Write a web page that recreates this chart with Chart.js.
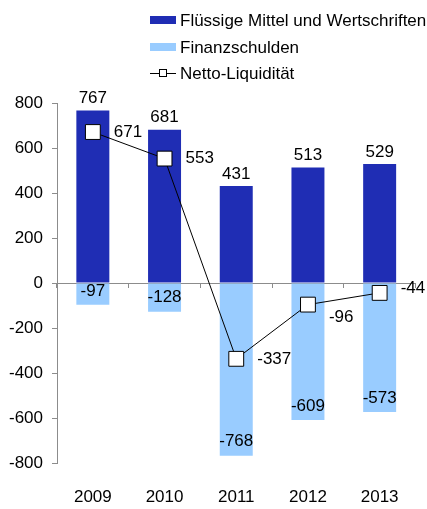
<!DOCTYPE html>
<html>
<head>
<meta charset="utf-8">
<script src="https://cdn.jsdelivr.net/npm/chart.js@4"></script>
<style>
	html, body { margin: 0; padding: 0; background: #fff; }
	#wrap { width: 427px; height: 509px; position: relative; }
</style>
</head>
<body>
<div id="wrap"><canvas id="chart" width="427" height="509"></canvas></div>
<script>
const years = ['2009', '2010', '2011', '2012', '2013'];
const liquidAssets = [767, 681, 431, 513, 529]; // Flüssige Mittel und Wertschriften
const financialDebt = [-97, -128, -768, -609, -573]; // Finanzschulden
const netLiquidity = [671, 553, -337, -96, -44]; // Netto-Liquidität
const yTicks = [-800, -600, -400, -200, 0, 200, 400, 600, 800];

const FONT = '"Liberation Sans", Arial, sans-serif';
const DARK = '#1f2db4';
const LIGHT = '#99ccff';
const AXIS = '#8c8c8c';

// Beschriftungen der Balken und Punkte
const valueLabels = {
	id: 'valueLabels',
	afterDatasetsDraw(chart) {
		const ctx = chart.ctx;
		ctx.save();
		ctx.font = '17px ' + FONT;
		ctx.fillStyle = '#000';
		ctx.textBaseline = 'middle';
		chart.data.datasets.forEach((ds, i) => {
			const meta = chart.getDatasetMeta(i);
			meta.data.forEach((el, j) => {
				const v = ds.data[j];
				if (ds.type === 'line') {
					const nudge = [0, 0, 0, 13, -5][j]; // kleine Verschiebung wie im Original
					ctx.textAlign = 'left';
					ctx.fillText(v, el.x + 21, el.y + nudge);
				} else if (v >= 0) {
					ctx.textAlign = 'center';
					ctx.fillText(v, el.x, el.y - 12);
				} else {
					ctx.textAlign = 'center';
					ctx.fillText(v, el.x, el.y - 14);
				}
			});
		});
		ctx.restore();
	},
};

// Legende oben rechts
const sideLegend = {
	id: 'sideLegend',
	afterDraw(chart) {
		const ctx = chart.ctx;
		const x = 150;
		const rows = [20, 47, 73];
		ctx.save();
		ctx.font = '17px ' + FONT;
		ctx.textAlign = 'left';
		ctx.textBaseline = 'middle';
		chart.data.datasets.forEach((ds, i) => {
			const y = rows[i];
			if (ds.type === 'line') {
				ctx.strokeStyle = '#000';
				ctx.lineWidth = 1;
				ctx.beginPath();
				ctx.moveTo(x, y + 0.5);
				ctx.lineTo(x + 26, y + 0.5);
				ctx.stroke();
				ctx.fillStyle = '#fff';
				ctx.fillRect(x + 9.5, y - 3.5, 7, 7);
				ctx.strokeRect(x + 9.5, y - 3.5, 7, 7);
			} else {
				ctx.fillStyle = ds.backgroundColor;
				ctx.fillRect(x, y - 4, 26, 8);
			}
			ctx.fillStyle = '#000';
			ctx.fillText(ds.label, x + 30, y + 1);
		});
		ctx.restore();
	},
};

new Chart(document.getElementById('chart'), {
	data: {
		labels: years,
		datasets: [
			{
				type: 'bar',
				label: 'Flüssige Mittel und Wertschriften',
				data: liquidAssets,
				backgroundColor: DARK,
				stack: 'a',
				order: 1,
				categoryPercentage: 1,
				barPercentage: 0.46,
			},
			{
				type: 'bar',
				label: 'Finanzschulden',
				data: financialDebt,
				backgroundColor: LIGHT,
				stack: 'a',
				order: 1,
				categoryPercentage: 1,
				barPercentage: 0.46,
			},
			{
				type: 'line',
				label: 'Netto-Liquidität',
				data: netLiquidity,
				borderColor: '#000',
				borderWidth: 1,
				pointStyle: 'rect',
				pointRadius: 10.5,
				pointBackgroundColor: '#fff',
				pointBorderColor: '#000',
				pointBorderWidth: 1,
				tension: 0,
				order: 0,
			},
		],
	},
	plugins: [valueLabels, sideLegend],
	options: {
		responsive: false,
		animation: false,
		layout: { padding: { top: 103, right: 5, left: 0, bottom: 0 } },
		plugins: {
			legend: { display: false },
			tooltip: { enabled: false },
		},
		scales: {
			x: {
				stacked: true,
				grid: { display: false, drawTicks: false },
				border: { display: false },
				ticks: { color: '#000', font: { family: FONT, size: 17 }, padding: 24 },
				afterFit: (axis) => {
					axis.height = 46;
				},
			},
			xz: {
				type: 'category',
				labels: years,
				position: { y: 0 },
				offset: true,
				grid: { offset: true, drawOnChartArea: false, color: AXIS, tickLength: 5 },
				border: { display: false },
				ticks: { display: false },
				afterFit: (axis) => {
					axis.height = 0;
				},
			},
			y: {
				stacked: true,
				min: -800,
				max: 800,
				afterBuildTicks: (axis) => {
					axis.ticks = yTicks.map((v) => ({ value: v }));
				},
				grid: {
					color: (c) => (c.tick && c.tick.value === 0 ? AXIS : 'transparent'),
					tickColor: AXIS,
					tickLength: 5,
				},
				border: { color: AXIS },
				ticks: { color: '#000', font: { family: FONT, size: 17 }, padding: 9 },
				afterFit: (axis) => {
					axis.width = 57;
				},
			},
		},
	},
});
</script>
</body>
</html>
